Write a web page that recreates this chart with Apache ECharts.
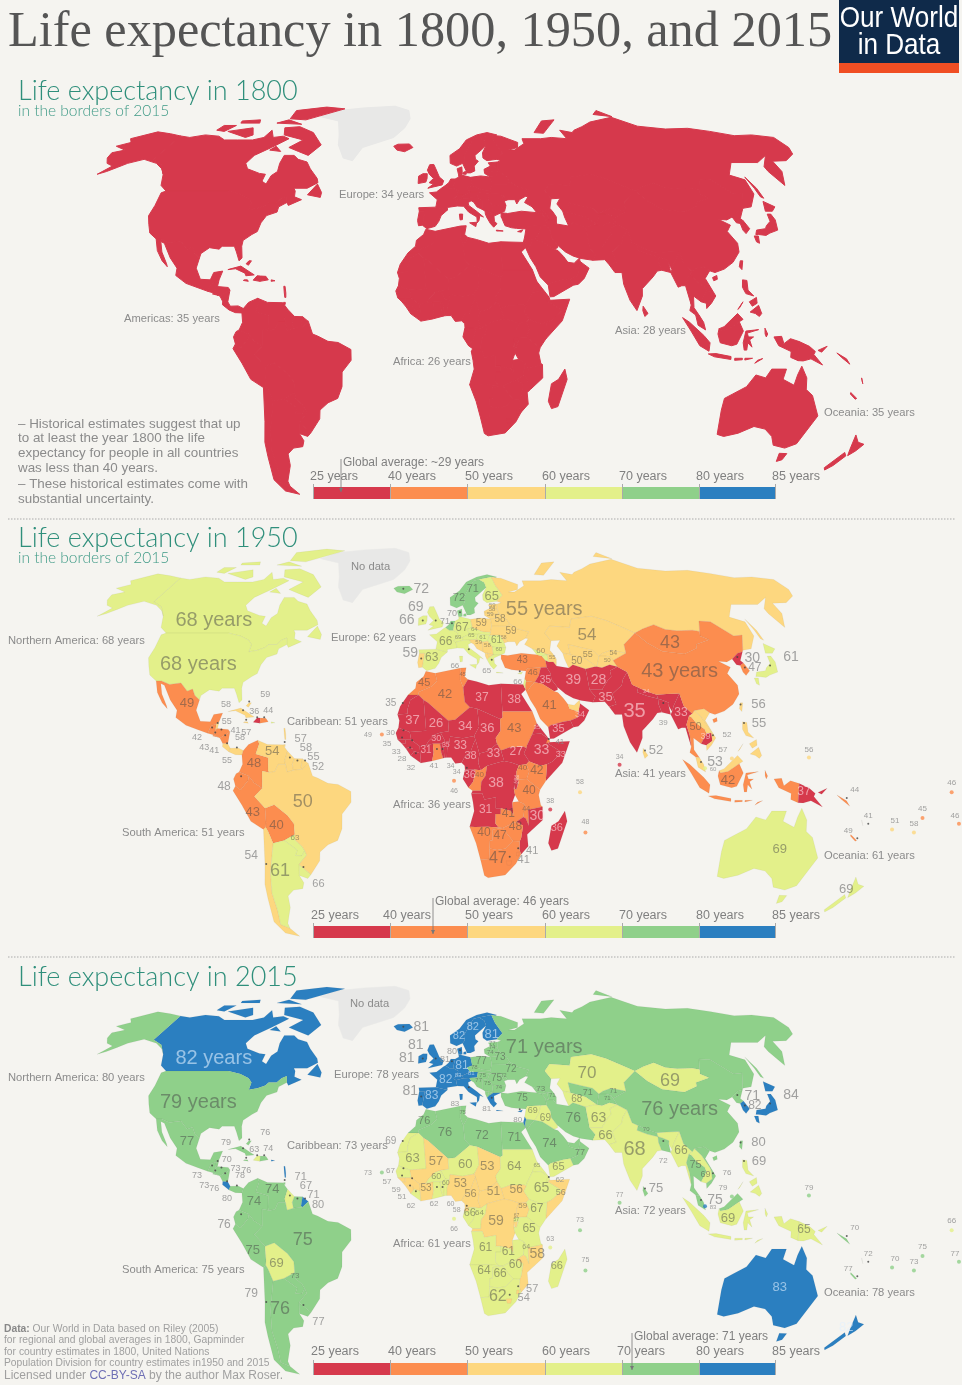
<!DOCTYPE html>
<html>
<head>
<meta charset="utf-8">
<title>Life expectancy in 1800, 1950, and 2015</title>
<script src="https://cdn.jsdelivr.net/npm/echarts@6/dist/echarts.min.js"></script>
<style>
  html, body { margin: 0; background: #F5F4F0; }
  #main { width: 962px; height: 1385px; }
</style>
</head>
<body>
<div id="main"></div>
<script>
// life expectancy by region
const continents = ['Americas', 'Europe', 'Africa', 'Asia', 'Oceania'];
const average1800 = [35, 34, 26, 28, 35];

const americasNames = ['Canada', 'USA', 'Mexico', 'Guatemala', 'Belize', 'Salvador', 'Honduras', 'Nicaragua', 'CostaRica', 'Panama', 'Cuba', 'Bahamas', 'Jamaica', 'Haiti', 'Dominican', 'PuertoRico', 'Antilles', 'Trinidad', 'Venezuela', 'Colombia', 'Ecuador', 'Guyana', 'Suriname', 'FrenchGuiana', 'Peru', 'Bolivia', 'Brazil', 'Paraguay', 'Chile', 'Argentina', 'Uruguay'];
const americas1950 = [68, 68, 49, 42, 55, 43, 41, 41, 55, 58, 58, 59, 57, 36, 44, 61, 57, 57, 54, 48, 48, 58, 55, 52, 43, 40, 50, 63, 54, 61, 66];
const americas2015 = [82, 79, 77, 73, 70, 73, 73, 76, 80, 78, 79, 76, 76, 63, 74, 80, 80, 71, 74, 74, 76, 67, 71, 80, 75, 69, 75, 73, 79, 76, 77];

const europeNames = ['Russia', 'Iceland', 'UK', 'Ireland', 'Portugal', 'Spain', 'France', 'Benelux', 'Germany', 'Switzerland', 'Austria', 'Italy', 'Norway', 'Sweden', 'Finland', 'Denmark', 'Estonia', 'Latvia', 'Lithuania', 'Belarus', 'Poland', 'Ukraine', 'Moldova', 'Czechia', 'Hungary', 'Romania', 'Bulgaria', 'Croatia', 'Serbia', 'Albania', 'Macedonia', 'Greece', 'Cyprus'];
const europe1950 = [55, 72, 69, 66, 59, 63, 66, 71, 67, 69, 65, 66, 72, 71, 65, 70, 59, 58, 59, 58, 59, 59, 58, 64, 61, 61, 60, 59, 58, 55, 56, 65, 66];
const europe2015 = [71, 81, 81, 81, 81, 83, 82, 81, 81, 83, 81, 83, 82, 82, 81, 80, 77, 74, 74, 73, 77, 72, 72, 78, 75, 75, 74, 77, 75, 78, 75, 81, 80];

const africaNames = ['Morocco', 'WesternSahara', 'Algeria', 'Tunisia', 'Libya', 'Egypt', 'Mauritania', 'Mali', 'Niger', 'Chad', 'Sudan', 'SouthSudan', 'Eritrea', 'Ethiopia', 'Somalia', 'Djibouti', 'Senegal', 'GuineaBissau', 'Guinea', 'SierraLeone', 'Liberia', 'IvoryCoast', 'Burkina', 'Ghana', 'Togo', 'Benin', 'Nigeria', 'Cameroon', 'CAR', 'EqGuinea', 'Gabon', 'Congo', 'DRCongo', 'Uganda', 'Kenya', 'Tanzania', 'Rwanda', 'Burundi', 'Angola', 'Zambia', 'Malawi', 'Mozambique', 'Zimbabwe', 'Namibia', 'Botswana', 'SouthAfrica', 'Swaziland', 'Lesotho', 'Madagascar'];
const africa1950 = [45, 35, 42, 45, 37, 38, 37, 26, 34, 36, 43, 27, 35, 33, 33, 41, 30, 35, 33, 28, 32, 31, 30, 41, 34, 35, 33, 38, 33, 34, 36, 40, 38, 40, 42, 40, 38, 36, 31, 41, 44, 30, 48, 40, 47, 47, 41, 41, 36];
const africa2015 = [76, 69, 76, 75, 72, 71, 63, 57, 60, 53, 64, 56, 65, 65, 56, 62, 67, 57, 59, 51, 62, 53, 60, 62, 60, 60, 53, 56, 51, 58, 66, 64, 59, 59, 67, 65, 67, 57, 61, 61, 64, 58, 60, 64, 66, 62, 57, 54, 66];

const asiaNames = ['Turkey', 'Georgia', 'Armenia', 'Azerbaijan', 'Kazakhstan', 'Uzbekistan', 'Turkmenistan', 'Kyrgyzstan', 'Tajikistan', 'Syria', 'Iraq', 'Iran', 'Israel', 'Jordan', 'Saudi', 'Yemen', 'Oman', 'UAE', 'Afghanistan', 'Pakistan', 'India', 'Nepal', 'Bangladesh', 'SriLanka', 'Myanmar', 'Thailand', 'Laos', 'Cambodia', 'Vietnam', 'Malaysia', 'Indonesia', 'Philippines', 'China', 'Taiwan', 'Mongolia', 'NorthKorea', 'SouthKorea', 'Japan', 'PNG'];
const asia1950 = [43, 60, 60, 55, 54, 55, 50, 54, 50, 46, 35, 39, 65, 46, 41, 35, 34, 52, 28, 35, 35, 34, 39, 52, 33, 49.9, 52, 39, 52, 53, 42, 55, 43, 56, 43, 30, 47, 61, 37];
const asia2015 = [75, 73, 74, 71, 69.9, 71, 68, 71, 71, 69, 69, 76, 82, 74, 74, 65, 77, 77, 63, 66, 68, 70, 72, 75, 66, 75, 66, 69, 76, 75, 69, 69, 76, 79.9, 69, 71, 82, 84, 65];

const oceaniaNames = ['Australia', 'NewZealand', 'Solomon', 'Vanuatu', 'NewCaledonia'];
const oceania1950 = [69, 69, 44, 41, 49];
const oceania2015 = [83, 82, 70, 72, 77];

const islandNames = ['CapeVerde', 'SaoTome', 'Comoros', 'Seychelles', 'Mauritius', 'Maldives', 'Singapore', 'Brunei', 'Micronesia', 'Fiji', 'Tonga', 'Samoa', 'Kiribati', 'Polynesia'];
const island1950 = [49, 46, 38, 58, 48, 34, 60, 57, 56, 51, 58, 45, 46, 46];
const island2015 = [73, 66, 63, 73, 75, 77, 83, 79, 79, 70, 73, 75, 66, 77];

const bucketEdges = [25, 40, 50, 60, 70, 80, 85];
const bucketColors = ['#D6394C', '#FC8D4F', '#FDD77F', '#E3F08A', '#8FD08A', '#2B7FC0'];
const legendLabels = ['25 years', '40 years', '50 years', '60 years', '70 years', '80 years', '85 years'];

// outlines in lon,lat ("|" starts another polygon of the same region)
const outlines = {
  Greenland: '-73,78 -60,76 -55,70 -53,66 -48,61 -43,60 -40,65 -25,69 -20,73 -18,77 -20,81 -30,83.5 -50,82.5 -65,81',
  Canada: '-141,69.6 -135,69 -128,70 -120,69.5 -115,68 -108,68 -100,68 -95,69 -94,72 -90,69 -85,69.5 -81,68.5 -87,65 -93,62 -94.5,59 -92,57 -85,55.3 -82,55 -82,52.5 -79.5,51.5 -79,54.5 -77,56 -78,59 -78,62 -73,62 -70,60.5 -65,59.5 -62,57 -57,53.5 -56,52 -60,50 -66,50 -65,49 -64.5,47 -61,46 -66,44 -67,45 -68,47.3 -70,46.5 -71.5,45 -75,45 -76,44 -79,43 -82.5,42.5 -82.5,45 -84.5,46.5 -89,48 -95,49 -123,49 -127,51 -130,55 -135,58.5 -141,60.3' +
    '|-62,66 -66,62 -72,63.5 -78,65 -73,68 -85,70 -88,73 -80,73.5 -70,71|-118,71.5 -105,69 -102,70 -106,73|-125,72 -120,71.5 -117,74 -124,74|-90,77 -80,76.5 -62,82 -75,83 -92,81|-95,75 -80,74.5 -90,76.5|-116,75 -105,75 -107,76.5 -117,76|-59,47.7 -53,46.8 -53,48.5 -56,51.5|-87,64 -81,63.5 -85,65.5',
  USA: '-124.7,48.4 -123,49 -95,49 -89,48 -84.5,46.5 -82.5,45 -82.5,42.5 -79,43 -76,44 -75,45 -71.5,45 -70,46.5 -68,47.3 -67,45 -70,43.5 -70,41.7 -74,40.5 -75.5,38 -76,35 -78,34 -81,32 -81,30 -80,26 -81,25 -82.7,28 -84,30 -89,30 -90,29 -94,29.5 -97,27.5 -97.2,26 -99.5,27.5 -101,29.7 -103,29 -106.5,31.8 -111,31.3 -114.8,32.5 -117,32.5 -120.5,34.5 -122.5,37.5 -124.3,40.4 -124,44' +
    '|-141,69.6 -141,60.3 -135,58.5 -130,55 -133,57 -138,59 -146,60.5 -152,59 -155,57.5 -158,56 -161,55 -158,58 -162,59 -165,61 -166,63 -161,64 -168,65.5 -163,67 -166,68.5 -156.5,71.3 -148,70.5',
  Mexico: '-117,32.5 -114.8,32.5 -111,31.3 -106.5,31.8 -103,29 -101,29.7 -99.5,27.5 -97.2,26 -97.8,22.5 -95.5,18.7 -91.5,18.5 -90.5,21 -87,21.5 -88,18.5 -89,17.8 -91,17.2 -92,14.6 -96,15.8 -101,17.3 -105.5,20 -105.5,22.5 -109,26 -113,31 -114.7,31.6 -113,28 -110,24 -109.5,23 -112,25 -115,28.5',
  Guatemala: '-92,14.6 -91,17.2 -89,17.8 -89,15.8 -89.5,14',
  Belize: '-89,17.8 -88,18.5 -88.3,16.2 -89,15.8',
  Salvador: '-89.5,14 -87.7,13.2 -90,13.7',
  Honduras: '-89,15.8 -88.3,16.2 -84,15.9 -83.2,15 -87,13 -87.7,13.2 -89.5,14',
  Nicaragua: '-87,13 -83.2,15 -83.7,11 -85.7,11.1',
  CostaRica: '-85.7,11.1 -83.7,11 -82.6,9.5 -83,8.2 -85.7,10',
  Panama: '-83,8.2 -82.6,9.5 -79.5,9.6 -77.4,8.7 -77.9,7.2 -80.5,7.3',
  Cuba: '-85,22 -80,23.2 -74.2,20.2 -77.5,19.9 -78,20.8 -82,22.3',
  Bahamas: '-78,24 -77,25 -76,25 -77,23.5',
  Jamaica: '-78.3,18.3 -76.3,18 -76.7,18.5 -78,18.5',
  Haiti: '-74.4,18.4 -71.7,18 -71.7,19.8 -73,19.9',
  Dominican: '-71.7,18 -68.4,18.5 -69.5,19.7 -71.7,19.8',
  PuertoRico: '-67.2,18 -65.7,18.2 -66,18.5 -67.2,18.5',
  Antilles: '-61.5,16.3 -61,14 -60.9,12.5 -61.3,12.5 -61.6,14 -62,16.3',
  Trinidad: '-61.9,10.1 -61,10.1 -61,10.8 -61.7,10.8',
  Colombia: '-77.4,8.7 -75.5,10.8 -72,12.2 -71.3,11 -72.5,7.5 -67.5,6.2 -67.5,2 -67,1.2 -69.8,1.7 -69.8,-4.2 -73,-2.3 -75,0 -78.8,1.4 -77.5,4 -77.9,7.2',
  Venezuela: '-72,12.2 -68,10.8 -62,10.7 -60,8.5 -61,5.2 -60.7,4 -63.5,4 -64.8,1.5 -67,1.2 -67.5,2 -67.5,6.2 -72.5,7.5 -71.3,11',
  Guyana: '-60,8.5 -57.2,6 -58,4 -57.5,2 -60,1.3 -60.7,4 -61,5.2',
  Suriname: '-57.2,6 -54,5.9 -54.5,3 -54,2.3 -57.5,2 -58,4',
  FrenchGuiana: '-54,5.9 -51.7,4.3 -54,2.3 -54.5,3',
  Ecuador: '-78.8,1.4 -75,0 -75.3,-1.5 -78.3,-4.8 -80.3,-3.4 -81,-1 -80,0.8',
  Peru: '-75,0 -73,-2.3 -69.8,-4.2 -73,-7 -70.5,-9.5 -69,-11 -69,-16 -69.3,-17.5 -70.3,-18.3 -75,-15.5 -78,-10 -81.3,-5 -80.3,-3.4 -78.3,-4.8 -75.3,-1.5',
  Bolivia: '-69,-11 -65.3,-9.8 -60.3,-13.5 -58,-16.3 -58,-20 -62.5,-22 -67,-23 -68.5,-19 -69.3,-17.5 -69,-16',
  Chile: '-70.3,-18.3 -69.3,-17.5 -68.5,-19 -67,-23 -70,-33 -71.5,-40 -71.5,-46 -72.5,-51 -69,-52.3 -66,-55.2 -72,-54 -75,-50 -74,-42 -73.5,-37 -71.5,-30',
  Paraguay: '-62.5,-22 -58,-20 -57.9,-22 -55.5,-24 -54.6,-25.5 -56,-27.3 -58.6,-27.2 -57.6,-25.3',
  Argentina: '-67,-23 -62.5,-22 -57.6,-25.3 -58.6,-27.2 -56,-27.3 -54.6,-25.5 -54,-27 -57.6,-30.2 -58.3,-34 -57,-36.5 -58,-38.5 -62,-39 -65,-41 -65.5,-45 -69,-50.5 -69,-52.3 -72.5,-51 -71.5,-46 -71.5,-40 -70,-33',
  Uruguay: '-57.6,-30.2 -53.4,-33.7 -55,-35 -58.3,-34',
  Brazil: '-51.7,4.3 -50,0 -48,-0.7 -44,-2.5 -40,-2.9 -35,-5.3 -35,-9 -38.7,-13 -39,-18 -41,-22 -45,-23.5 -48.5,-26 -49,-29 -53.4,-33.7 -57.6,-30.2 -54,-27 -54.6,-25.5 -55.5,-24 -57.9,-22 -58,-20 -58,-16.3 -60.3,-13.5 -65.3,-9.8 -69,-11 -70.5,-9.5 -73,-7 -69.8,-4.2 -69.8,1.7 -67,1.2 -64.8,1.5 -63.5,4 -60.7,4 -60,1.3 -57.5,2 -54,2.3',

  Iceland: '-24,65.5 -22,64 -18,63.4 -14,65 -16,66.4 -22,66.3',
  UK: '-5,58.5 -3,58.6 -2,57 -0.3,54 1.7,52.7 1,51.2 -5.5,50 -3,51.5 -5,52 -3,53.5 -5,55 -6,56.5',
  Ireland: '-6,55.2 -6,53.5 -6.5,52.2 -10,51.7 -10,54.3 -8,55.2',
  Portugal: '-8.9,42 -6.5,42 -7,39.5 -7.4,37.2 -9,37 -9.5,38.8',
  Spain: '-9.2,43.2 -1.8,43.4 3.2,42.4 0.5,40.5 -0.5,38.5 -2,36.8 -5.5,36 -7.4,37.2 -7,39.5 -6.5,42 -8.9,42',
  France: '-1.8,43.4 -1.2,46 -4.7,48.4 -1.6,48.7 1.5,50.5 2.5,51 4.2,50 6,50 8.2,49 7.5,47.5 6,46.3 7,45.8 7.5,43.8 3.2,43.3 3.2,42.4',
  Benelux: '2.5,51 4,52 5,53.3 7,53.3 6.2,51 6,50 4.2,50',
  Germany: '7,53.3 8.8,54 8.7,54.9 9.5,54.8 14.2,53.9 14.7,51 12.2,50.3 13.5,48.7 10,47.5 7.5,47.5 8.2,49 6,50 6.2,51',
  Switzerland: '6,46.3 7.5,47.5 10,47.5 10.3,46.5 7,45.8',
  Austria: '10,47.5 13.5,48.7 17,48.7 16.3,46.8 13,46.6 10.3,46.5',
  Italy: '7,45.8 10.3,46.5 13,46.6 13.7,45.6 12.3,45 12.5,44 16,41.8 18.5,40 17,40.5 16.5,38.8 15.7,38 15.7,40 12.3,41.7 10.3,43.7 7.5,43.8|12.5,38 15.5,38.2 15,36.7|8.3,41 9.7,41 9.5,39.1 8.5,39',
  Norway: '5,59 5,62 10,64.5 14,68 20,70 26,71 31,70 30,69.7 28,70 21,69 18,68.5 14.5,65 12,62 12,60 11,59 8,58',
  Sweden: '11,59 12,60 12,62 14.5,65 18,68.5 21,69 23.5,67.8 24,65.8 21,64 17.5,62 17.5,60.5 18.8,59.8 16.5,58 16.5,56.2 14.3,55.5 12.8,55.5',
  Finland: '21,69 28,70 29,66.8 31.5,62.8 28,60.5 23,60 21.3,61 21.5,63 24,65.8 23.5,67.8',
  Denmark: '8.7,54.9 8.2,57 10.5,57.7 10.5,55 9.5,54.8|11.2,55.8 12.5,56 12.3,55 11,55',
  Estonia: '23.5,59.2 28,59.5 27.5,57.5 24.3,58',
  Latvia: '21,56.8 24.3,58 27.5,57.5 28,56 26,55.7 21,56.3',
  Lithuania: '21,56.3 26,55.7 26.7,54.3 23.5,54 21,55.3',
  Belarus: '26,55.7 28,56 31,54 32,52.3 30.5,51.4 23.6,51.5 23.5,54 26.7,54.3',
  Poland: '14.2,53.9 19,54.4 23.5,54 23.6,51.5 22.7,49.2 19,49.5 14.7,51',
  Ukraine: '23.6,51.5 30.5,51.4 32,52.3 35,50.5 40,49.5 38,47.2 35,46 33.5,44.5 33,46 30,46 26.7,48.3 22.2,48.2 22.7,49.2',
  Moldova: '26.7,48.3 30,46 28.2,45.5',
  Czechia: '12.2,50.3 14.7,51 19,49.5 22.7,49.2 22.2,48.2 17,48.7 13.5,48.7',
  Hungary: '16.3,46.8 17,48.7 22.2,48.2 21,46.2 18.8,45.9',
  Romania: '22.2,48.2 26.7,48.3 28.2,45.5 28.7,44 26,43.8 22.7,44.2 21,46.2',
  Bulgaria: '22.7,44.2 26,43.8 28.7,44 27.8,42 26.2,41.5 22.8,41.4',
  Croatia: '13.7,45.6 13,46.6 16.3,46.8 18.8,45.9 18.5,42.5 16,43.5 14.8,45.1',
  Serbia: '18.8,45.9 21,46.2 22.7,44.2 22.8,41.4 20.5,42 19.4,42 18.5,42.5',
  Albania: '19.4,42 20.5,42 21,40.5 20,39.7 19.4,41',
  Macedonia: '20.5,42 22.8,41.4 21,40.5',
  Greece: '20,39.7 21,40.5 22.8,41.4 26.2,41.5 23,40.3 23,38.5 24,37.7 22.5,36.5 21.2,37.8|23.5,35.5 26.3,35.2 26,35 23.5,35.2',
  Cyprus: '32.3,35 34.5,35.6 33.8,34.8',
  Russia: '30,60 28,60.5 31.5,62.8 29,66.8 28,70 30,69.7 33,69.5 41,67 40,65 35,64 38,64 44,66.5 44,68.5 54,68.5 60,69 68,68.5 67,72 73,71 75,72 81,73.5 88,75.5 104,77.7 113,73.7 127,72.5 140,72.8 150,71.5 160,69.7 170,70 180,69 180,65 177.5,62.5 170,60 163,59.8 162,56 157,51 155.5,56 156,57.8 163,62 155,59.3 142,59.3 135.5,54.7 141,53 140,48 135,43.5 131,43 135,48.3 131,48 125,53 120,53.3 117,49.6 114,50 107,49.8 102,50.3 98,52 92,50.5 87.5,49 83,51 77,53.5 71,55 61,54 59,51 50,51.5 47,49 49,46.3 47.5,43 48.5,41.8 46,41.5 40,43.5 37,45 39,47 38,47.2 40,49.5 35,50.5 32,52.3 31,54 28,56 27.5,57.5 28,59.5' +
    '|52,71 57,70.7 68,76.5 60,76|142,54 143,50 143,46.5 142,47 142,50|95,79 100,81 105,78',

  Morocco: '-5.9,35.8 -2,35.1 -1.2,32.5 -3.7,30.5 -8.7,28.7 -8.7,27.7 -13,27.7 -10,30 -9.7,32 -6.8,34',
  WesternSahara: '-13,27.7 -8.7,27.7 -12,26 -13,23 -13,21.3 -17,21 -16,23.8',
  Algeria: '-2,35.1 8.6,36.9 8.3,33 9.5,30.2 10,25.3 12,23.5 6,19.2 3.2,19 -4.8,25 -6.6,26 -8.7,27.7 -8.7,28.7 -3.7,30.5 -1.2,32.5',
  Tunisia: '8.6,36.9 11,37 10.2,34 11.5,33 9.5,30.2 8.3,33',
  Libya: '11.5,33 15,32.3 20,31 25,31.5 25,22 25,20 24,19.5 15,23 12,23.5 10,25.3 9.5,30.2',
  Egypt: '25,31.5 34.2,31.3 34.9,29.5 33,28 37,22 25,22',
  Mauritania: '-17,21 -13,21.3 -13,23 -12,26 -8.7,27.7 -6.6,26 -6.5,25 -5.5,15.5 -12,15 -16.5,16.5 -16.2,19',
  Mali: '3.2,19 -4.8,25 -6.6,26 -6.5,25 -5.5,15.5 -12,15 -11.4,12.4 -8,10.2 -5.5,10.5 -4.5,12 -2,14.2 0.2,14.9 3.5,15.3',
  Niger: '3.7,11.7 2,12 0.2,14.9 3.5,15.3 3.2,19 6,19.2 12,23.5 15,23 15.5,16.8 13.5,13.7 9,12.9 4,13.5',
  Chad: '15,23 24,19.5 24,15.5 22,13 22.5,11 18.8,8.5 15.5,7.7 14,12.5 13.5,13.7 15.5,16.8',
  Sudan: '25,22 37,22 38.5,18 36.5,14.3 34.3,10.5 34,9.5 33,10 27.5,9.8 24,8.7 22.5,11 22,13 24,15.5 24,19.5 25,20',
  SouthSudan: '24,8.7 27.5,9.8 33,10 34,9.5 33,7.8 35,5 33.9,4 31,3.7 28,4.6 25.2,5.1',
  Eritrea: '36.5,14.3 38.5,18 43,12.7 40,14.5',
  Ethiopia: '36.5,14.3 40,14.5 43,12.7 42.7,11 48,8 44,4.9 42,4 39.5,3.5 35.8,4.7 35,5 33,7.8 34,9.5 34.3,10.5',
  Somalia: '43,11.5 51.2,11.9 48,4.5 41.5,-1.7 42,4 44,4.9 48,8 42.7,11',
  Djibouti: '41.8,11 43.4,11.7 43,12.7 42.4,12.4',
  Senegal: '-16.5,16.5 -12,15 -11.4,12.4 -16.7,12.4 -17.5,14.7',
  GuineaBissau: '-16.7,12.4 -13.7,12.4 -13.7,11 -15,11',
  Guinea: '-13.7,12.4 -11.4,12.4 -8,10.2 -7.8,7.8 -10,8.5 -10.5,8 -10.7,9.3 -12.5,9.8 -13.3,9.2 -15,11 -13.7,11',
  SierraLeone: '-13.3,9.2 -12.5,9.8 -10.7,9.3 -10.5,8 -11.5,6.9',
  Liberia: '-11.5,6.9 -10.5,8 -10,8.5 -7.8,7.8 -7.5,4.4',
  IvoryCoast: '-7.5,4.4 -3.1,5.1 -2.5,8 -2.8,11 -5.5,10.5 -8,10.2 -7.8,7.8',
  Burkina: '-5.5,10.5 -2.8,11 0,11 0.9,11 2,12 0.2,14.9 -2,14.2 -4.5,12',
  Ghana: '-3.1,5.1 1.2,6.1 0.5,8 0,11 -2.8,11 -2.5,8',
  Togo: '1.2,6.1 1.7,6.2 1.5,9 0.9,11 0,11 0.5,8',
  Benin: '1.7,6.2 2.7,6.3 2.8,9 3.7,11.7 2,12 0.9,11 1.5,9',
  Nigeria: '2.7,6.3 2.8,9 3.7,11.7 4,13.5 9,12.9 13.5,13.7 14,12.5 13.2,11 11.5,7 10,7 8.5,4.5 6,4.3 4.4,6.3',
  Cameroon: '8.5,4.5 9.7,3.5 9.8,2.2 13.3,2.2 16,2 15,4.5 15.5,7.7 14,12.5 13.2,11 11.5,7 10,7',
  CAR: '15,4.5 16,2 18.5,3.5 22.5,4.5 25.2,5.1 24,8.7 22.5,11 18.8,8.5 15.5,7.7',
  EqGuinea: '9.8,2.2 11.3,2.2 11.3,1 9.5,1',
  Gabon: '9.5,1 11.3,1 11.3,2.2 13.3,2.2 14,1.5 13,-2 11.2,-4 9,-1',
  Congo: '11.2,-4 12.8,-5 16,-5 16.2,-2 17.8,0 18.5,3.5 16,2 13.3,2.2 14,1.5 13,-2',
  DRCongo: '12.3,-6 12.8,-5 16,-5 16.2,-2 17.8,0 18.5,3.5 22.5,4.5 25.2,5.1 28,4.6 31,3.7 30,1.5 30,-1.2 29.2,-1.5 29,-4.4 29.5,-6.5 28.5,-9 29,-13.4 28,-12 24,-11 22,-11 22,-7.3 17.5,-8 16.6,-5.9',
  Uganda: '31,3.7 33.9,4 35,1.5 34,-1 30,-1.2 30,1.5',
  Kenya: '35,5 35.8,4.7 39.5,3.5 42,4 41.5,-1.7 39.3,-4.7 34,-1 35,1.5 33.9,4',
  Tanzania: '34,-1 39.3,-4.7 38.8,-6.5 39.7,-10 40.4,-10.5 34.8,-11.5 33,-9.5 31,-8.7 29.5,-6.5 29,-4.4 30,-4.5 30.8,-2.4 30,-1.2',
  Rwanda: '29,-1.4 30.8,-1.3 30.6,-2.6 29,-2.7',
  Burundi: '29,-2.7 30.6,-2.6 30,-4.5 29.3,-4.4',
  Angola: '12.3,-6 16.6,-5.9 17.5,-8 22,-7.3 22,-11 24,-11 24,-13 22,-13 22,-16.2 23.3,-17.6 19,-17.3 14,-17.4 11.8,-17.3 13.5,-12 13,-9',
  Zambia: '24,-11 28,-12 29,-13.4 28.5,-9 31,-8.7 33,-9.5 33.3,-11 33,-14 30.3,-15.6 28,-16.5 25,-17.8 23.3,-17.6 22,-16.2 22,-13 24,-13',
  Malawi: '33,-9.5 34.8,-11.5 35.3,-17 34,-14.5 33,-14 33.3,-11',
  Mozambique: '40.4,-10.5 40.7,-15 36,-19 34.8,-20 35.5,-24 32.8,-26.8 32,-25 32,-22.3 32.5,-21 33,-17 30.3,-15.6 33,-14 34,-14.5 35.3,-17 34.8,-11.5',
  Zimbabwe: '25,-17.8 28,-16.5 30.3,-15.6 33,-17 32.5,-21 32,-22.3 29.3,-22.2 27,-20',
  Namibia: '11.8,-17.3 14,-17.4 19,-17.3 23.3,-17.6 25,-17.8 21,-18.3 21,-22 20,-22 20,-28.4 16.5,-28.6 14.5,-23',
  Botswana: '21,-18.3 25,-17.8 27,-20 29.3,-22.2 26.5,-24.8 23,-25.3 20,-24.8 20,-22 21,-22',
  SouthAfrica: '16.5,-28.6 20,-28.4 20,-24.8 23,-25.3 26.5,-24.8 29.3,-22.2 32,-22.3 32,-25 32.8,-26.8 31,-30 27,-33.8 20,-34.8 18.4,-34',
  Swaziland: '31,-26 32,-26 32,-27.3 31,-27.3',
  Lesotho: '27,-29 29.3,-29 29,-30.5 27.5,-30.5',
  Madagascar: '49.3,-12 50.4,-15.5 47.5,-24.8 45,-25.5 43.5,-23 44.3,-17 47,-15.5',

  Turkey: '26,40 26.2,41.5 29,41.2 35,42 41.5,41.5 43.5,41 44.8,39.5 44.8,37.2 42.3,37.1 36.6,36.8 35.9,35.9 32,36.1 30,36.3 27.3,37 26.3,39.5',
  Georgia: '40,43.5 46,41.5 43.5,41 41.5,41.5',
  Armenia: '43.5,41 46,41.5 46,39 44.8,39.5',
  Azerbaijan: '46,41.5 48.5,41.8 49.5,40 49,37.6 48,39 46,39',
  Kazakhstan: '47,49 50,51.5 59,51 61,54 71,55 77,53.5 83,51 87.5,49 80.5,45 80,42 74,43 70,42 68,41 66,43 61,44 56,45 56,41.5 52.8,42 51,44.5 53,46.5 49,46.3',
  Uzbekistan: '56,45 61,44 66,43 68,41 66,37.3 62,40 56,41.5',
  Turkmenistan: '52.8,42 56,41.5 62,40 66,37.3 65,37.3 61,36.6 56,38 54,36.9 53,40',
  Kyrgyzstan: '70,42 74,43 80,42 73.5,39.5 73,40.5 71,41 68,41',
  Tajikistan: '66,37.3 68,41 71,41 73,40.5 73.5,39.5 74.5,37.3 71.5,38 68,37',
  Syria: '35.9,35.9 36.6,36.8 42.3,37.1 41,34.3 39,32 36.8,32.3 35.5,32.4 35,33.2',
  Iraq: '42.3,37.1 44.8,37.2 46,35 46,33 48,30.3 48,29.5 46.5,29 42,31.5 39,32 41,34.3',
  Iran: '44.8,39.5 46,39 48,39 49,37.6 54,36.9 56,38 61,36.6 61,31.5 61,29.5 63,27.2 61.6,25.2 57,25.8 54,26.6 51,28 48.5,30 48,30.3 46,33 46,35 44.8,37.2',
  Israel: '34.2,31.3 34.9,29.5 35,31 35.5,32.4 35,33.2',
  Jordan: '34.9,29.5 36,29.3 37.5,31 39,32 36.8,32.3 35.5,32.4 35,31',
  Saudi: '34.9,29.5 36,29.3 37.5,31 39,32 42,31.5 46.5,29 48,28.5 50,26.5 51.5,24.5 52,23 55.5,22 55,20 52,19 49,18.5 44,17.3 43,16.7 42.7,16.5 40,19.5 38.5,23 36.5,26',
  Yemen: '43,16.7 44,17.3 49,18.5 52,19 53,16.7 45,12.8 43.5,12.7',
  Oman: '52,19 55,20 55.5,22 56.4,24.8 59.8,22.5 57.5,19 55,17 53,16.7',
  UAE: '51.5,24.5 54,24.2 56.4,26 56.4,24.8 55.5,22 52,23',
  Afghanistan: '61,36.6 65,37.3 66,37.3 68,37 71.5,38 74.5,37.3 71,36 71,34 69.5,33 66.5,30 66.3,29.5 61,29.5 61,31.5',
  Pakistan: '61.6,25.2 66.5,25.4 68,23.7 71,24.5 70,28 74.5,31 75.5,33 78,35.5 74.5,37.3 71,36 71,34 69.5,33 66.5,30 66.3,29.5 61,29.5 63,27.2',
  India: '68,23.7 70,21 72.8,21 73,17 75,11.5 77.5,8 80,13 80.2,15.5 85,19.5 87,21.5 88.8,21.8 88,24.5 88.2,26.4 84,27.3 80.2,28.6 81,30.2 78.8,31.2 78,35.5 75.5,33 74.5,31 70,28 71,24.5|88.2,26.4 88,27.8 92,28 97.3,28.2 94,24 93,22 92,24 92.3,25 89.8,26',
  Nepal: '80.2,28.6 84,27.3 88.2,26.4 88,27.8 84,29 81,30.2',
  Bangladesh: '88.8,21.8 92.3,21 92,24 92.3,25 89.8,26 88.2,26.4 88,24.5',
  SriLanka: '80,9.5 81.8,7 80.5,6 79.8,8',
  Myanmar: '92.3,21 94.5,16 96,16.5 97.5,16.5 98.5,12 99,10 98.8,14 98,17.5 99.5,20.5 101,21.3 98,24 97.3,28.2 94,24 93,22',
  Thailand: '99,10 98.3,8 100.5,6.5 102,6.2 100,9 100.2,13 103,11 105.5,14.5 105,16 102,18 100.5,20 99.5,20.5 98,17.5 98.8,14',
  Laos: '101,21.3 102,22.4 104.5,20 107,16 107.5,14.7 105.5,14.5 105,16 102,18 100.5,20 99.5,20.5',
  Cambodia: '103,11 105,10.5 107.5,12 107.5,14.7 105.5,14.5',
  Vietnam: '102,22.4 106,23 108,21.6 105.7,19 109,13 107,10.5 105,8.7 105,10.5 107.5,12 107.5,14.7 107,16 104.5,20',
  Malaysia: '100.5,6.5 102,6.2 103.5,4 104.2,1.4 101.3,3|110,1 113,1.5 115.5,3 117.5,4.2 119,5 117,7 111.5,2.5 109.5,1.8',
  Indonesia: '95.3,5.6 98,4 103.5,-0.5 106,-3 105.7,-5.9 102,-4 98.5,1|105.5,-6.8 108.5,-6.7 114.5,-7.7 114.5,-8.7 108,-7.8|109.5,1.8 110,1 113,1.5 115.5,3 117.5,4.2 119,1 116.5,-3.5 114.5,-4 110,-3 109,0|119.5,-5.5 119,-3 120,1 125,1.5 120.5,0.3 121,-1 123,-1 121.5,-2 122.5,-4.5 120.8,-3 120.5,-5.5|131,-1 134,-0.8 135,-3.3 137.5,-1.6 141,-2.6 141,-9.1 138,-8 138,-6 133,-4|116,-8.3 119,-8.3 119,-8.8 116,-9|120,-8.3 123,-8.3 120,-8.9|124,-10 127,-8.4 125,-9|127.5,2 128.5,0 128,-1 127.5,0',
  Philippines: '120.5,18.5 122.2,18.3 122,15 124,13 121,13.8 120,16|122,7.5 125.5,9.8 126.5,7 125.5,6 124,7|122,11 125,12.5 125,10.5 123,9.5|117.2,8.4 119.5,11 118,9',
  China: '73.5,39.5 80,42 80.5,45 87.5,49 91,45.5 96,42.7 105,41.7 111.5,43.7 112,45 119,46.7 116,48 117,49.6 120,53.3 125,53 131,48 135,48.3 131,43 130.5,42.5 128,42 124.3,40 121.5,39 118,39.2 122,37.2 119.5,35 122,31 121.5,28 118,24.5 114,22.2 110,21 108,21.6 106,23 102,22.4 101,21.3 98,24 97.3,28.2 92,28 88,27.8 84,29 81,30.2 78.8,31.2 78,35.5 74.5,37.3|108.7,19.3 110.5,20 110.5,18.7 109,18.2',
  Taiwan: '121,25 122,25 121,22 120.2,23',
  Mongolia: '87.5,49 92,50.5 98,52 102,50.3 107,49.8 114,50 117,49.6 116,48 119,46.7 112,45 111.5,43.7 105,41.7 96,42.7 91,45.5',
  NorthKorea: '124.3,40 128,42 130.5,42.5 127.5,39.5 128.3,38.6 126.5,37.8 125,38',
  SouthKorea: '126.5,37.8 128.3,38.6 129.4,36 127,34.3 126.3,35.5',
  Japan: '130.9,34 132,35.5 136,36 137,37 139.5,38.5 140,41 141.5,41 142,39 140.8,35.5 137,34.5 135,33.7 132,34|140,42 141.7,45.4 145.3,43.5 143,42|130,33.5 131.7,33.5 131,31 130,31.5',
  PNG: '141,-2.6 145,-4.2 147.5,-6 147,-7 150.8,-10.6 146,-8.5 143,-9.2 141,-9.1|148.5,-5.6 152,-4.2 150,-6.2',

  Australia: '114,-22 113.7,-26 115,-34.3 118,-35 123.5,-33.9 129,-31.6 134,-32.5 138,-35 140.5,-38 146,-39 150,-37.5 153.5,-28 149,-21 146,-19 145.3,-15 142.7,-11 141.5,-14 140.8,-17.5 136,-15.5 136.8,-12 131,-12 129,-15 125,-14 122,-18 117,-20.5|145,-40.8 148.3,-40.9 148,-43 146,-43.6',
  NewZealand: '172.7,-34.5 175.5,-37 178.5,-37.7 176.8,-40 175,-41.6 174,-39.5|172.7,-40.5 174.3,-41.7 172,-45 170,-46.6 169,-45.8',
  Solomon: '156,-6.5 160,-8.5 161.5,-10.3 158,-8',
  Vanuatu: '167,-15 168,-17 167.5,-16',
  NewCaledonia: '164,-20 167,-22 166.5,-22.3 164,-20.5'
};

// where each number sits: region, lon, lat, font size, then the label's shift for the ones led off the land
const labelSpots = [
  ['Canada', -105, 53, 20], ['USA', -102, 37.5, 20], ['Mexico', -102, 24, 13],
  ['Guatemala', -90.5, 15.5, 9, -15, 10], ['Salvador', -89, 13.7, 9, -11, 15], ['Belize', -88.5, 17, 9, 9, -2],
  ['Honduras', -86.7, 14.8, 9, 14, 1], ['Nicaragua', -85, 12.8, 9, -11, 15], ['CostaRica', -84, 10, 9, 0, 17], ['Panama', -80, 8.5, 9, 3, -10],
  ['Cuba', -79, 21.5, 9, -17, -6], ['Bahamas', -77, 24.5, 9, 16, -7], ['Haiti', -73, 19, 9, -3, -6], ['Dominican', -70.2, 19, 9, 4, -7],
  ['Jamaica', -77.3, 18.2, 9, 0, 13], ['Trinidad', -61.3, 10.4, 11, 16, -3], ['Guyana', -59, 5, 11, 16, -10], ['Suriname', -56, 4, 11, 16, -4], ['FrenchGuiana', -53, 4, 11, 13, 6],
  ['Venezuela', -66, 7, 13], ['Colombia', -73, 3, 13], ['Ecuador', -78, -1.5, 12, -17, 10], ['Peru', -74, -14, 13], ['Bolivia', -65, -18.5, 13],
  ['Brazil', -54, -10.4, 18], ['Paraguay', -58, -23, 8], ['Chile', -71, -32, 12, -15, -8], ['Argentina', -66, -34.5, 18], ['Uruguay', -56, -33, 11, 15, 17],

  ['Iceland', -19, 65, 14, 18, 0], ['UK', -2, 53, 14, -20, -13], ['Ireland', -8, 53, 14, -16, 0], ['Portugal', -8, 39.5, 14, -11, -5],
  ['Spain', -3.5, 39.7, 12], ['France', 2.5, 45.5, 12], ['Germany', 10, 50.5, 12], ['Benelux', 5.5, 52, 9, -7, -2], ['Denmark', 9.5, 56, 9, -8, 1],
  ['Switzerland', 8, 46.8, 6], ['Austria', 14, 47.5, 6], ['Czechia', 15.5, 49.8, 6], ['Hungary', 19, 47, 6], ['Croatia', 17, 45, 6], ['Serbia', 20.7, 44, 6], ['Bulgaria', 25.5, 42.7, 6],
  ['Italy', 12.5, 42.7, 8, -14, 17], ['Greece', 22, 39, 8, -5, 11], ['Cyprus', 33.3, 35, 8, -2, 10],
  ['Norway', 9.5, 61.5, 11], ['Sweden', 17, 65, 11], ['Finland', 26, 62, 13], ['Estonia', 25.5, 58.7, 6], ['Latvia', 25, 57, 6], ['Lithuania', 23.8, 55.3, 6],
  ['Poland', 19, 52, 10], ['Belarus', 28, 53.5, 10], ['Ukraine', 32, 49, 10], ['Romania', 25, 46, 10], ['Moldova', 28.3, 46.8, 5],
  ['Russia', 50, 57, 20], ['Kazakhstan', 65.6, 47.5, 17], ['Uzbekistan', 63.5, 41, 9], ['Turkmenistan', 58, 38.5, 10], ['Kyrgyzstan', 74.5, 41.2, 7], ['Tajikistan', 71, 38.7, 6],
  ['Georgia', 43.5, 42, 8], ['Azerbaijan', 48, 40, 6],

  ['Morocco', -6.5, 31, 11], ['Algeria', 2, 27, 13], ['Libya', 17, 26, 12], ['Egypt', 30, 25, 12], ['WesternSahara', -15, 24, 10, -12, 0], ['Tunisia', 9.5, 34, 6],
  ['Mauritania', -11, 18, 13], ['Mali', -1.6, 17, 13], ['Niger', 10, 16, 13], ['Chad', 18.7, 15, 13], ['Sudan', 29.5, 15, 13], ['SouthSudan', 30, 7, 12],
  ['Ethiopia', 40, 7.5, 14], ['Eritrea', 38.5, 15.5, 6], ['Somalia', 47.5, 6, 9], ['Djibouti', 43, 11.5, 8, 11, 3],
  ['Senegal', -14.5, 14.5, 8, -13, 3], ['GuineaBissau', -15, 12, 8, -15, 6], ['Guinea', -11, 11, 8, -16, 11], ['SierraLeone', -11.8, 8.5, 8, -8, 11], ['Liberia', -9.5, 6.5, 8, -5, 14],
  ['IvoryCoast', -5.5, 7.5, 10], ['Burkina', -1.5, 11.5, 9], ['Ghana', -1.2, 8, 8, -3, 17], ['Togo', 1, 8, 7, 8, 17], ['Benin', 2.3, 9.5, 7],
  ['Nigeria', 8, 9, 12], ['Cameroon', 12, 5.5, 11], ['CAR', 21, 6.5, 12], ['EqGuinea', 10.5, 1.5, 7, -10, 4], ['Gabon', 11.7, -1, 11], ['Congo', 15.5, -1, 8],
  ['DRCongo', 22, -4, 14], ['Uganda', 32.5, 1.5, 8], ['Kenya', 38, 0.5, 12], ['Tanzania', 35, -6.5, 12], ['Rwanda', 30, -2, 5], ['Burundi', 29.9, -3.4, 5],
  ['Angola', 18, -13, 12], ['Zambia', 27, -14.5, 12], ['Malawi', 34, -13, 7], ['Mozambique', 38.5, -15.5, 14], ['Zimbabwe', 30, -19, 12],
  ['Namibia', 17.5, -21, 12], ['Botswana', 24, -22, 12], ['SouthAfrica', 23.5, -30, 16], ['Swaziland', 31.5, -26.5, 11, 14, 3], ['Lesotho', 28.3, -29.5, 11, 14, 3], ['Madagascar', 46.5, -19.5, 11],
  ['CapeVerde', -23, 13, 7, -14, 0], ['SaoTome', 5.5, -3, 7, 0, 10], ['Comoros', 43.5, -13, 7, 0, -8], ['Seychelles', 55, -7, 7, 0, -10], ['Mauritius', 58, -21, 7, 0, -10], ['Maldives', 70.5, 2.5, 7, 0, -8],

  ['Turkey', 35, 39, 10], ['Syria', 38.6, 34.5, 9], ['Iraq', 43.5, 32, 10], ['Iran', 55, 32, 14], ['Afghanistan', 65.4, 32, 14], ['Pakistan', 67, 26, 13], ['India', 78, 21, 20],
  ['Saudi', 44, 23, 13], ['Yemen', 47, 15, 11], ['Oman', 56, 20, 9], ['Nepal', 84, 28.2, 6], ['Bangladesh', 90, 24, 8, 0, 20], ['SriLanka', 80.7, 7.5, 13, 11, 0],
  ['Myanmar', 96.5, 20.5, 12], ['Thailand', 101.5, 15.5, 11], ['Cambodia', 105, 12.5, 9], ['Vietnam', 108, 12.8, 8, 14, 0], ['Malaysia', 102.5, 3.5, 14, 14, 0],
  ['Singapore', 104, 1.3, 6, 8, 1], ['Brunei', 114.7, 4.7, 8, -9, -9], ['Indonesia', 113, -3, 13], ['Philippines', 121, 17, 13, 15, 0], ['Taiwan', 121, 23.5, 13, 18, 0],
  ['China', 100, 35, 20], ['Mongolia', 101, 45, 18], ['NorthKorea', 127, 40, 14, 15, 1], ['SouthKorea', 128, 36.3, 12, 10, 0], ['Japan', 139, 37, 14, 21, -8], ['PNG', 143, -7, 12],
  ['Australia', 137, -27, 13], ['NewZealand', 172, -41, 13], ['Solomon', 160, -9, 8, 8, -8], ['Vanuatu', 170, -18, 8, 0, -8], ['NewCaledonia', 167, -23, 8, -9, -7],
  ['Micronesia', 145, 5, 8, 0, -8], ['Fiji', 180, -20, 8, 3, -9], ['Tonga', 189, -21, 8, 0, -9], ['Samoa', 191, -16, 8, 0, -9], ['Kiribati', 201, -7, 8, 0, -9], ['Polynesia', 206, -18, 8, -4, -8]
];
const yearLabels = ['Canada', 'USA', 'Russia', 'China'];

// Robinson projection, scaled so one unit is one pixel of the page
const robLat = [0, 5, 10, 15, 20, 25, 30, 35, 40, 45, 50, 55, 60, 65, 70, 75, 80, 85, 90];
const robA = [1, .9986, .9954, .99, .9822, .973, .96, .9427, .9216, .8962, .8679, .835, .7986, .7597, .7186, .6732, .6213, .5722, .5322];
const robB = [0, .062, .124, .186, .248, .31, .372, .434, .4958, .5571, .6176, .6769, .7346, .7903, .8435, .8936, .9394, .9761, 1];
const scaleX = 2.55, scaleY = 236, originX = 440, originY = 334;
const panelShift = [0, 442, 880];

function robLookup(table, lat) {
  const a = Math.min(Math.abs(lat), 89.99) / 5, i = Math.floor(a);
  return table[i] + (table[i + 1] - table[i]) * (a - i);
}
const robinson = {
  project: function (p) {
    return [originX + scaleX * p[0] * robLookup(robA, p[1]),
            originY - scaleY * Math.sign(p[1]) * robLookup(robB, p[1])];
  },
  unproject: function (q) {
    const b = Math.abs(originY - q[1]) / scaleY;
    let i = 0;
    while (i < 17 && robB[i + 1] < b) i++;
    const lat = (robLat[i] + 5 * (b - robB[i]) / (robB[i + 1] - robB[i])) * Math.sign(originY - q[1]);
    return [(q[0] - originX) / (scaleX * robLookup(robA, lat)), lat];
  }
};

// the label spots were read on a first fit of the map, keep them on the same page height
function spotLat(lat) {
  const y = 329 - 232 * Math.sign(lat) * robLookup(robB, lat) + 1;
  return robinson.unproject([originX, y])[1];
}

function parseRings(text) {
  return text.split('|').map(function (part) {
    const ring = part.trim().split(/\s+/).map(function (s) { return s.split(',').map(Number); });
    ring.push(ring[0]);
    return [ring];
  });
}
const features = Object.keys(outlines).map(function (name) {
  return { type: 'Feature', properties: { name: name }, geometry: { type: 'MultiPolygon', coordinates: parseRings(outlines[name]) } };
});
echarts.registerMap('world', { type: 'FeatureCollection', features: features });

// box of the drawn land, so the geo can be laid out 1:1 in page pixels
let minX = 1e9, maxX = -1e9, minY = 1e9, maxY = -1e9;
features.forEach(function (f) {
  f.geometry.coordinates.forEach(function (poly) {
    poly[0].forEach(function (pt) {
      const q = robinson.project(pt);
      minX = Math.min(minX, q[0]); maxX = Math.max(maxX, q[0]);
      minY = Math.min(minY, q[1]); maxY = Math.max(maxY, q[1]);
    });
  });
});

function pairUp(names, values) {
  return names.map(function (n, i) { return { name: n, value: values[i] }; });
}
const data1800 = [americasNames, europeNames, africaNames, asiaNames, oceaniaNames].flatMap(function (names, c) {
  return names.map(function (n) { return { name: n, value: average1800[c] }; });
});
const data1950 = [].concat(pairUp(americasNames, americas1950), pairUp(europeNames, europe1950), pairUp(africaNames, africa1950), pairUp(asiaNames, asia1950), pairUp(oceaniaNames, oceania1950));
const data2015 = [].concat(pairUp(americasNames, americas2015), pairUp(europeNames, europe2015), pairUp(africaNames, africa2015), pairUp(asiaNames, asia2015), pairUp(oceaniaNames, oceania2015));
const islands1950 = pairUp(islandNames, island1950), islands2015 = pairUp(islandNames, island2015);

function bucketColor(v) {
  let i = 0;
  while (i < 5 && v >= bucketEdges[i + 1]) i++;
  return bucketColors[i];
}

function labelSeries(geoIndex, regionData, islandData) {
  const lookup = {};
  regionData.concat(islandData).forEach(function (d) { lookup[d.name] = d.value; });
  const spots = labelSpots.filter(function (s) { return lookup[s[0]] != null; });
  return {
    type: 'scatter',
    coordinateSystem: 'geo',
    geoIndex: geoIndex,
    silent: true,
    z: 5,
    data: spots.map(function (s) {
      const v = lookup[s[0]], led = s[4] !== undefined;
      const isIsland = islandNames.indexOf(s[0]) >= 0;
      const fill = bucketColor(v);
      let text = 'rgba(70,70,70,0.62)';
      if (led) text = '#8b8b8b';
      else if (fill === bucketColors[0]) text = 'rgba(255,225,228,0.75)';
      else if (fill === bucketColors[5]) text = 'rgba(225,240,255,0.75)';
      return {
        name: Math.round(v) + (yearLabels.indexOf(s[0]) >= 0 ? ' years' : ''),
        value: [s[1], spotLat(s[2])],
        symbolSize: isIsland ? 4 : (led ? 2 : 0),
        itemStyle: { color: isIsland ? fill : '#444' },
        label: { fontSize: s[3], color: text }
      };
    }),
    symbol: 'circle',
    label: { show: true, position: 'inside', formatter: '{b}', fontFamily: 'Liberation Sans' },
    labelLayout: function (p) {
      const s = spots[p.dataIndex];
      return s[4] !== undefined ? { dx: s[4], dy: s[5] } : {};
    }
  };
}

function geoPanel(i) {
  return {
    map: 'world',
    projection: robinson,
    layoutCenter: [(minX + maxX) / 2, (minY + maxY) / 2 + panelShift[i]],
    layoutSize: Math.max(maxX - minX, maxY - minY),
    silent: true,
    itemStyle: { areaColor: '#E8E8E7', borderColor: i === 0 ? bucketColors[0] : 'rgba(90,90,90,0.12)', borderWidth: i === 0 ? 1 : 0.5 },
    regions: [{ name: 'Greenland', itemStyle: { areaColor: '#E8E8E7', borderColor: '#E8E8E7' } }],
    emphasis: { disabled: true },
    select: { disabled: true }
  };
}

const pieces = bucketColors.map(function (c, i) {
  return { gte: bucketEdges[i], lt: bucketEdges[i + 1], color: c };
});

// page furniture
const grayText = '#8b8b8b';
const graphics = [];
function addText(x, y, text, size, color, extra) {
  graphics.push({
    type: 'text', x: x, y: y, z: 20, silent: true,
    style: Object.assign({ text: text, fontSize: size, fill: color, fontFamily: 'Liberation Sans', verticalAlign: 'middle' }, extra || {})
  });
}
function addLegend(barTop, labelY, labelLefts) {
  const lefts = [314, 391, 468, 546, 623, 700, 776];
  bucketColors.forEach(function (c, i) {
    graphics.push({ type: 'rect', z: 20, silent: true, shape: { x: lefts[i], y: barTop, width: lefts[i + 1] - lefts[i] - 1, height: 12 }, style: { fill: c } });
  });
  lefts.forEach(function (x, i) {
    graphics.push({ type: 'rect', z: 20, silent: true, shape: { x: x - 1, y: barTop - 3, width: 1, height: 15 }, style: { fill: '#aaa' } });
    addText(labelLefts[i], labelY, legendLabels[i], 12.5, '#808080');
  });
}
function addAverage(x, top, bottom, text) {
  graphics.push({ type: 'line', z: 21, silent: true, shape: { x1: x, y1: top, x2: x, y2: bottom }, style: { stroke: '#777', lineWidth: 0.8 } });
  graphics.push({ type: 'polygon', z: 21, silent: true, shape: { points: [[x - 2, bottom - 4], [x + 2, bottom - 4], [x, bottom]] }, style: { fill: '#777' } });
  addText(x + 2, top + 4, text, 12, '#808080');
}

addText(8, 33, 'Life expectancy in 1800, 1950, and 2015', 50.3, '#555', { fontFamily: 'Liberation Serif' });
graphics.push({ type: 'rect', silent: true, shape: { x: 839, y: 0, width: 120, height: 63 }, style: { fill: '#0F2A4A' } });
graphics.push({ type: 'rect', silent: true, shape: { x: 839, y: 63, width: 120, height: 10 }, style: { fill: '#F04E23' } });
['Our World', 'in Data'].forEach(function (line, i) {
  graphics.push({
    type: 'text', x: 899, y: 19 + i * 27, scaleX: 0.9, z: 20, silent: true,
    style: { text: line, fontSize: 29, fill: '#fff', fontFamily: 'Liberation Sans', align: 'center', verticalAlign: 'middle' }
  });
});

[[91, 'Life expectancy in 1800'], [538, 'Life expectancy in 1950'], [977, 'Life expectancy in 2015']].forEach(function (t) {
  addText(18, t[0], t[1], 27, '#2F8F7B', { fontFamily: 'Lato', fontWeight: 300 });
});
addText(18, 111, 'in the borders of 2015', 15.5, '#3F9A86', { fontFamily: 'Lato', fontWeight: 300 });
addText(18, 558, 'in the borders of 2015', 15.5, '#3F9A86', { fontFamily: 'Lato', fontWeight: 300 });

[[339, 195, 'Europe: 34 years'], [124, 319, 'Americas: 35 years'], [393, 362, 'Africa: 26 years'], [615, 331, 'Asia: 28 years'], [824, 413, 'Oceania: 35 years'],
 [351, 567, 'No data'], [8, 641, 'Northern America: 68 years'], [331, 638, 'Europe: 62 years'], [287, 722, 'Caribbean: 51 years'], [122, 833, 'South America: 51 years'], [393, 805, 'Africa: 36 years'], [615, 774, 'Asia: 41 years'], [824, 856, 'Oceania: 61 years'],
 [350, 1004, 'No data'], [8, 1078, 'Northern America: 80 years'], [334, 1075, 'Europe: 78 years'], [287, 1146, 'Caribbean: 73 years'], [122, 1270, 'South America: 75 years'], [393, 1244, 'Africa: 61 years'], [615, 1211, 'Asia: 72 years'], [824, 1293, 'Oceania: 78 years']
].forEach(function (t) { addText(t[0], t[1], t[2], 11.2, grayText); });

['– Historical estimates suggest that up', 'to at least the year 1800 the life', 'expectancy for people in all countries', 'was less than 40 years.', '– These historical estimates come with', 'substantial uncertainty.'].forEach(function (line, i) {
  addText(18, [424, 438.5, 453, 468, 484, 499][i], line, 13.4, grayText);
});

addLegend(487, 477, [310, 388, 465, 542, 619, 696, 772]);
addLegend(926, 916, [311, 383, 465, 542, 619, 696, 772]);
addLegend(1363, 1352, [311, 388, 465, 542, 617, 696, 772]);
addAverage(341, 459, 492, 'Global average: ~29 years');
addAverage(433, 898, 934, 'Global average: 46 years');
addAverage(632, 1333, 1370, 'Global average: 71 years');

[519, 957].forEach(function (y) {
  graphics.push({ type: 'line', silent: true, shape: { x1: 8, y1: y, x2: 955, y2: y }, style: { stroke: '#aaa', lineWidth: 1, lineDash: [1.5, 1.5] } });
});

graphics.push({
  type: 'text', x: 4, y: 1323, z: 20, silent: true,
  style: {
    text: '{b|Data:} Our World in Data based on Riley (2005)\nfor regional and global averages in 1800, Gapminder\nfor country estimates in 1800, United Nations\nPopulation Division for country estimates in1950 and 2015\n{big|Licensed under }{link|CC-BY-SA}{big| by the author Max Roser.}',
    fontFamily: 'Liberation Sans', fontSize: 10.3, lineHeight: 11.5, fill: '#a0a0a0',
    rich: {
      b: { fontWeight: 'bold', fontSize: 10.3, fill: '#888' },
      big: { fontSize: 12, fill: '#a0a0a0', lineHeight: 14 },
      link: { fontSize: 12, fill: '#6E6FB5', lineHeight: 14 }
    }
  }
});

const chart = echarts.init(document.getElementById('main'));
chart.setOption({
  animation: false,
  backgroundColor: '#F5F4F0',
  geo: [geoPanel(0), geoPanel(1), geoPanel(2)],
  visualMap: [0, 1, 2].map(function (i) {
    return { type: 'piecewise', show: false, seriesIndex: i, dimension: 0, pieces: pieces };
  }),
  series: [
    { type: 'map', geoIndex: 0, data: data1800 },
    { type: 'map', geoIndex: 1, data: data1950 },
    { type: 'map', geoIndex: 2, data: data2015 },
    labelSeries(1, data1950, islands1950),
    labelSeries(2, data2015, islands2015)
  ],
  graphic: graphics
});
</script>
</body>
</html>
